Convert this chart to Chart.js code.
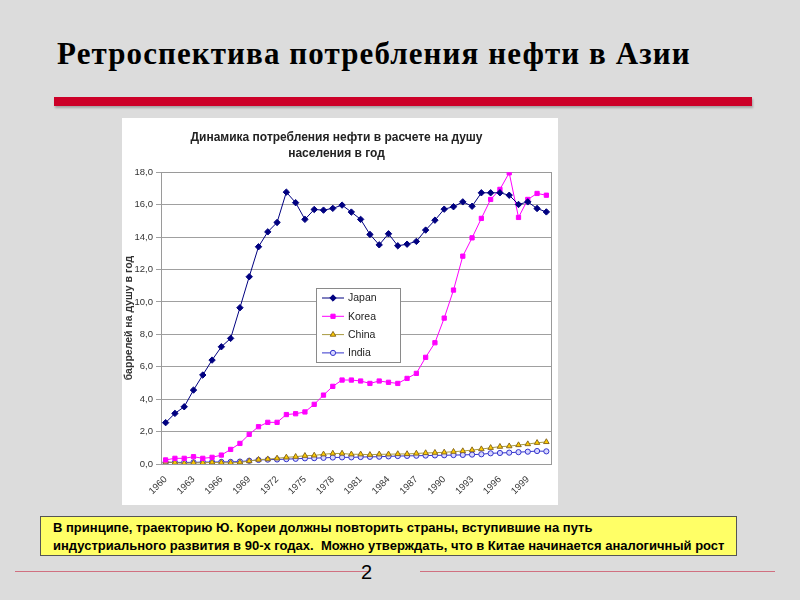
<!DOCTYPE html>
<html>
<head>
<meta charset="utf-8">
<script src="https://cdn.jsdelivr.net/npm/chart.js@4.4.0/dist/chart.umd.min.js"></script>
<style>
  body { margin: 0; width: 800px; height: 600px; background: #dcdcdc; position: relative; overflow: hidden; font-family: "Liberation Sans", Arial, sans-serif; }
  #title { position: absolute; left: 57px; top: 36px; font: bold 31px "Liberation Serif", "Times New Roman", serif; letter-spacing: 1.1px; color: #000; white-space: nowrap; }
  #redbar { position: absolute; left: 54px; top: 97px; width: 698px; height: 9px; background: #cc0028; box-shadow: 1px 2px 2px rgba(0,0,0,0.25); }
  #panel { position: absolute; left: 122px; top: 118px; width: 436px; height: 387px; background: #fff; }
  #note { position: absolute; left: 40px; top: 516px; width: 697px; height: 40px; background: #ffff66; border: 1px solid #555; box-sizing: border-box; font: bold 13px "Liberation Sans", Arial, sans-serif; color: #000; line-height: 18px; padding: 2px 0 0 12px; white-space: nowrap; }
  .hl { position: absolute; top: 571px; height: 1px; background: #d07080; }
  #pagenum { position: absolute; left: 361px; top: 561px; font: 20px "Liberation Sans", Arial, sans-serif; color: #000; }
</style>
</head>
<body>
<div id="title">Ретроспектива потребления нефти в Азии</div>
<div id="redbar"></div>
<div id="panel"><canvas id="myChart" width="436" height="387"></canvas></div>
<div id="note">В принципе, траекторию Ю. Кореи должны повторить страны, вступившие на путь<br>индустриального развития в 90-х годах.&nbsp; Можно утверждать, что в Китае начинается аналогичный рост</div>
<div class="hl" style="left:15px;width:355px"></div>
<div class="hl" style="left:420px;width:355px"></div>
<div id="pagenum">2</div>

<script>
// годы 1960 - 2001
var years = ['1960','1961','1962','1963','1964','1965','1966','1967','1968','1969',
             '1970','1971','1972','1973','1974','1975','1976','1977','1978','1979',
             '1980','1981','1982','1983','1984','1985','1986','1987','1988','1989',
             '1990','1991','1992','1993','1994','1995','1996','1997','1998','1999',
             '2000','2001'];

var japan = [2.55, 3.12, 3.53, 4.56, 5.49, 6.41, 7.23, 7.75, 9.64, 11.55,
             13.4, 14.32, 14.9, 16.77, 16.12, 15.09, 15.7, 15.66, 15.77, 15.97,
             15.54, 15.09, 14.16, 13.52, 14.2, 13.46, 13.56, 13.73, 14.43, 15.04,
             15.72, 15.87, 16.17, 15.9, 16.73, 16.73, 16.73, 16.58, 16.01, 16.17,
             15.76, 15.55];

var korea = [0.25, 0.35, 0.35, 0.45, 0.35, 0.41, 0.55, 0.9, 1.27, 1.83,
             2.3, 2.57, 2.57, 3.05, 3.1, 3.21, 3.68, 4.25, 4.79, 5.18,
             5.18, 5.12, 4.97, 5.12, 5.04, 4.97, 5.28, 5.59, 6.58, 7.48,
             9.0, 10.73, 12.82, 13.95, 15.15, 16.32, 16.94, 17.96, 15.21, 16.32,
             16.69, 16.58];

var china = [0.15, 0.08, 0.04, 0.07, 0.07, 0.1, 0.08, 0.07, 0.1, 0.18,
             0.27, 0.3, 0.35, 0.41, 0.45, 0.51, 0.53, 0.6, 0.65, 0.65,
             0.6, 0.6, 0.57, 0.6, 0.6, 0.62, 0.62, 0.65, 0.68, 0.7,
             0.72, 0.76, 0.8, 0.86, 0.92, 1.0, 1.07, 1.1, 1.17, 1.23,
             1.31, 1.36];

var india = [0.1, 0.1, 0.1, 0.1, 0.12, 0.12, 0.13, 0.13, 0.15, 0.2,
             0.25, 0.27, 0.28, 0.3, 0.32, 0.35, 0.36, 0.38, 0.4, 0.41,
             0.41, 0.43, 0.44, 0.45, 0.47, 0.49, 0.5, 0.51, 0.52, 0.53,
             0.54, 0.55, 0.56, 0.58, 0.6, 0.66, 0.68, 0.7, 0.73, 0.76,
             0.8, 0.78];

var chartTitle = ['Динамика потребления нефти в расчете на душу', 'населения в год'];
var yTitle = 'баррелей на душу в год';

// рамка области построения
var plotBorder = {
    id: 'plotBorder',
    beforeDatasetsDraw(chart) {
        var a = chart.chartArea, ctx = chart.ctx;
        ctx.save();
        ctx.strokeStyle = '#9a9a9a';
        ctx.lineWidth = 1;
        ctx.strokeRect(Math.round(a.left) + 0.5, Math.round(a.top) + 0.5, Math.round(a.right - a.left), Math.round(a.bottom - a.top));
        ctx.restore();
    }
};

// легенда внутри графика, как в Excel
var insideLegend = {
    id: 'insideLegend',
    afterDraw(chart) {
        var ctx = chart.ctx, a = chart.chartArea;
        var x0 = Math.round(a.left) + 155, y0 = Math.round(a.top) + 116;
        ctx.save();
        ctx.fillStyle = '#fff';
        ctx.fillRect(x0, y0, 84, 74);
        ctx.strokeStyle = '#8a8a8a';
        ctx.lineWidth = 1;
        ctx.strokeRect(x0 + 0.5, y0 + 0.5, 84, 74);
        chart.data.datasets.forEach((ds, i) => {
            var y = y0 + 10 + i * 18.3;
            ctx.strokeStyle = ds.borderColor;
            ctx.lineWidth = 1;
            ctx.beginPath();
            ctx.moveTo(x0 + 6, y);
            ctx.lineTo(x0 + 28, y);
            ctx.stroke();
            ctx.fillStyle = ds.pointBackgroundColor;
            ctx.strokeStyle = ds.pointBorderColor;
            Chart.helpers.drawPoint(ctx, {pointStyle: ds.pointStyle, radius: ds.pointRadius, borderWidth: 1, rotation: 0}, x0 + 17, y);
            ctx.fillStyle = '#222';
            ctx.font = '10.5px "Liberation Sans", Arial, sans-serif';
            ctx.textBaseline = 'middle';
            ctx.fillText(ds.label, x0 + 32, y + 0.5);
        });
        ctx.restore();
    }
};

var ctx = document.getElementById('myChart');
var chartOil = new Chart(ctx, {
    type: 'line',
    data: {
        labels: years,
        datasets: [{
            label: 'Japan',
            data: japan,
            borderColor: '#000080',
            backgroundColor: '#000080',
            pointBackgroundColor: '#000080',
            pointBorderColor: '#000080',
            pointStyle: 'rectRot',
            pointRadius: 3.2
        }, {
            label: 'Korea',
            data: korea,
            borderColor: '#ff00ff',
            backgroundColor: '#ff00ff',
            pointBackgroundColor: '#ff00ff',
            pointBorderColor: '#ff00ff',
            pointStyle: 'rect',
            pointRadius: 3
        }, {
            label: 'China',
            data: china,
            borderColor: '#a89a40',
            backgroundColor: '#ffcc00',
            pointBackgroundColor: '#ffcc00',
            pointBorderColor: '#8a6a20',
            pointStyle: 'triangle',
            pointRadius: 3.2
        }, {
            label: 'India',
            data: india,
            borderColor: '#3333cc',
            backgroundColor: '#ccccff',
            pointBackgroundColor: '#d8d8ff',
            pointBorderColor: '#3333cc',
            pointStyle: 'circle',
            pointRadius: 2.6
        }]
    },
    options: {
        responsive: false,
        animation: false,
        devicePixelRatio: 1,
        layout: { padding: { left: 0, right: 7, top: 0, bottom: 0 } },
        elements: { line: { borderWidth: 1, tension: 0 }, point: { borderWidth: 1 } },
        plugins: {
            legend: { display: false },
            tooltip: { enabled: false },
            title: {
                display: true,
                text: chartTitle,
                color: '#222',
                font: { family: '"Liberation Sans", Arial, sans-serif', size: 12, weight: 'bold', lineHeight: 1.3 },
                padding: { top: 12, bottom: 11 }
            }
        },
        scales: {
            x: {
                offset: true,
                grid: { display: false, drawOnChartArea: false, offset: true },
                border: { color: '#9a9a9a' },
                ticks: {
                    autoSkip: false,
                    minRotation: 45,
                    maxRotation: 45,
                    color: '#333',
                    padding: 2,
                    font: { family: '"Liberation Sans", Arial, sans-serif', size: 9.5 },
                    callback: function(v, i) { return i % 3 === 0 ? years[i] : ''; }
                },
                afterFit: function(scale) { scale.height = 41; }
            },
            y: {
                min: 0,
                max: 18,
                grid: { color: '#a0a0a0', tickLength: 5 },
                border: { color: '#9a9a9a' },
                ticks: {
                    stepSize: 2,
                    color: '#333',
                    padding: 3,
                    font: { family: '"Liberation Sans", Arial, sans-serif', size: 9.5 },
                    callback: function(v) { return v.toFixed(1).replace('.', ','); }
                },
                title: {
                    display: true,
                    text: yTitle,
                    color: '#333',
                    padding: { top: 1, bottom: 0 },
                    font: { family: '"Liberation Sans", Arial, sans-serif', size: 10.5, weight: 'bold' }
                },
                afterFit: function(scale) { scale.width = 39; }
            }
        }
    },
    plugins: [plotBorder, insideLegend]
});
</script>
</body>
</html>
